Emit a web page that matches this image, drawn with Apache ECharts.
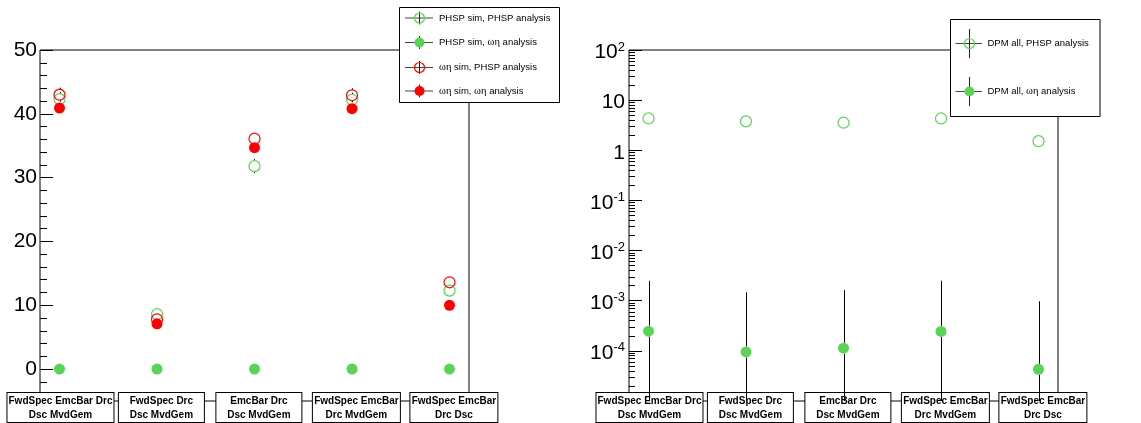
<!DOCTYPE html>
<html>
<head>
<meta charset="utf-8">
<script src="https://cdn.jsdelivr.net/npm/echarts@6/dist/echarts.min.js"></script>
<style>
html,body{margin:0;padding:0;background:#fff;}
#chart{width:1141px;height:423px;}
</style>
</head>
<body>
<div id="chart"></div>
<script>
// ---------- data ----------
const categories = [
  'FwdSpec EmcBar Drc\nDsc MvdGem',
  'FwdSpec Drc\nDsc MvdGem',
  'EmcBar Drc\nDsc MvdGem',
  'FwdSpec EmcBar\nDrc MvdGem',
  'FwdSpec EmcBar\nDrc Dsc'
];
// left panel
const phspSimPhspAna     = [42.3, 8.6, 31.8, 42.2, 12.3];
const phspSimPhspAnaErr  = [1.1, 0.5, 1.1, 1.1, 0.6];
const phspSimOmEtaAna    = [0, 0, 0, 0, 0];
const phspSimOmEtaAnaErr = [0, 0, 0, 0, 0];
const omEtaSimPhspAna    = [43.0, 7.8, 36.1, 42.9, 13.6];
const omEtaSimPhspAnaErr = [1.1, 0.5, 0.9, 1.1, 0.6];
const omEtaSimOmEtaAna   = [40.9, 7.1, 34.7, 40.8, 10.0];
const omEtaSimOmEtaAnaErr= [0.8, 0.4, 0.8, 0.8, 0.5];
// right panel
const dpmPhspAna     = [4.31, 3.77, 3.55, 4.31, 1.52];
const dpmPhspAnaErr  = [0.05, 0.05, 0.05, 0.05, 0.03];
const dpmOmEtaAna    = [2.47e-4, 9.5e-5, 1.13e-4, 2.44e-4, 4.3e-5];
const dpmOmEtaAnaErr = [2.25e-3, 1.375e-3, 1.53e-3, 2.26e-3, 9.3e-4];
// ticks
const leftMajorTicks  = [0, 10, 20, 30, 40, 50];
const leftMinorTicks  = [-4, -2, 2, 4, 6, 8, 12, 14, 16, 18, 22, 24, 26, 28, 32, 34, 36, 38, 42, 44, 46, 48];
const rightMajorTicks = [1e-5, 1e-4, 1e-3, 1e-2, 1e-1, 1, 10, 100];
const rightTickLabels = [1e-4, 1e-3, 1e-2, 1e-1, 1, 10, 100];
const rightMinorTicks = [];
for (let e = -5; e < 2; e++) for (let m = 2; m <= 9; m++) rightMinorTicks.push(+(m * Math.pow(10, e)).toPrecision(3));
const legendLeft  = ['PHSP sim, PHSP analysis', 'PHSP sim, {g|ωη} analysis', '{g|ωη} sim, PHSP analysis', '{g|ωη} sim, {g|ωη} analysis'];
const legendRight = ['DPM all, PHSP analysis', 'DPM all, {g|ωη} analysis'];

// ---------- style ----------
const GREEN = '#59d454', RED = '#ff0000';
const FONT = '"Liberation Sans", Arial, sans-serif';
const SERIF = '"Liberation Serif", "DejaVu Serif", serif';
const MARKER_R = 5.5;
const LABEL_SHIFT = [0.01, 0.045, 0.045, 0.045, 0.045]; // small horizontal nudge of the category boxes

const ctx = document.createElement('canvas').getContext('2d');
ctx.font = 'bold 10px ' + FONT;
const catRich = {};
categories.forEach((c, i) => {
  const tw = Math.max(...c.split('\n').map(l => ctx.measureText(l).width));
  catRich['c' + i] = {width: Math.max(Math.ceil(tw), 83), align: 'center', fontWeight: 'bold', fontSize: 10, lineHeight: 14, fontFamily: FONT, color: '#000'};
});
function catLabel(v) {
  const i = Math.round(v);
  return categories[i].split('\n').map(l => '{c' + i + '|' + l + '}').join('\n');
}
const xLabelStyle = {
  customValues: categories.map((c, i) => i + LABEL_SHIFT[i]), formatter: catLabel, rich: catRich,
  backgroundColor: '#fff', borderColor: '#000', borderWidth: 1, padding: [1, 1, 0, 1],
  margin: -8, showMinLabel: true, showMaxLabel: true, hideOverlap: false
};

function logLabel(v) {
  const e = Math.round(Math.log10(v));
  if (e === 0) return '{b|1}';
  if (e === 1) return '{b|10}';
  return '{b|10}{s|' + e + '}';
}

function errSeries(xi, yi, vals, errs, clampMin) {
  return {
    type: 'custom', xAxisIndex: xi, yAxisIndex: yi, clip: true, z: 2,
    data: vals.map((v, i) => [i, v, errs[i]]),
    encode: {x: 0, y: 1},
    renderItem: function (params, api) {
      const x = api.value(0), y = api.value(1), e = api.value(2);
      if (!(e > 0)) return null;
      let lo = y - e;
      if (clampMin !== undefined && lo < clampMin) lo = clampMin;
      const pc = api.coord([x, y]);
      const p1 = api.coord([x, y + e]);
      const p2 = api.coord([x, lo]);
      const px = Math.round(pc[0]) + 0.5;
      const children = [];
      if (pc[1] - MARKER_R > p1[1]) children.push({type: 'line', shape: {x1: px, y1: p1[1], x2: px, y2: pc[1] - MARKER_R}, style: {stroke: '#000', lineWidth: 1}});
      if (p2[1] > pc[1] + MARKER_R) children.push({type: 'line', shape: {x1: px, y1: pc[1] + MARKER_R, x2: px, y2: p2[1]}, style: {stroke: '#000', lineWidth: 1}});
      return {type: 'group', children: children};
    }
  };
}
function scat(xi, yi, vals, filled, color) {
  return {
    type: 'scatter', xAxisIndex: xi, yAxisIndex: yi, z: 3,
    data: vals.map((v, i) => [i, v]),
    symbol: 'circle', symbolSize: 11,
    itemStyle: filled ? {color: color, opacity: 1} : {color: 'rgba(0,0,0,0)', borderColor: color, borderWidth: 1.2, opacity: 1}
  };
}

// ---------- legends (graphic) ----------
function legendBlock(box, items, markers, lx, x1, x2, tx, vhalf) {
  const els = [{type: 'rect', shape: box, style: {fill: '#fff', stroke: '#000', lineWidth: 1}, z: 100}];
  items.forEach((t, i) => {
    const y = markers[i].y;
    els.push({type: 'line', shape: {x1: x1, y1: y, x2: x2, y2: y}, style: {stroke: '#444', lineWidth: 1}, z: 101});
    els.push({type: 'line', shape: {x1: lx, y1: y - vhalf, x2: lx, y2: y + vhalf}, style: {stroke: '#222', lineWidth: 1}, z: 101});
    els.push({type: 'circle', shape: {cx: lx, cy: y, r: 5}, style: markers[i].filled ? {fill: markers[i].color} : {fill: 'rgba(0,0,0,0)', stroke: markers[i].color, lineWidth: 1.2}, z: 102});
    els.push({type: 'text', x: tx, y: y, style: {text: t, fontSize: 9.5, fontFamily: FONT, fill: '#000', verticalAlign: 'middle', align: 'left',
      rich: {g: {fontFamily: SERIF, fontSize: 10.5, fill: '#000'}}}, z: 103});
  });
  return els;
}
const graphics = [].concat(
  legendBlock({x: 399.5, y: 7.5, width: 160, height: 95}, legendLeft,
    [{y: 18, filled: false, color: GREEN}, {y: 42.5, filled: true, color: GREEN}, {y: 67.5, filled: false, color: RED}, {y: 91, filled: true, color: RED}],
    419.5, 405, 433, 439, 6.5),
  legendBlock({x: 950.5, y: 19.5, width: 149.5, height: 97}, legendRight,
    [{y: 43.5, filled: false, color: GREEN}, {y: 91.5, filled: true, color: GREEN}],
    969.5, 955.5, 982, 987.5, 14.5)
);

const noLine = {show: false, onZero: false};
const chart = echarts.init(document.getElementById('chart'), null, {renderer: 'canvas'});
chart.setOption({
  animation: false,
  backgroundColor: '#fff',
  textStyle: {fontFamily: FONT},
  grid: [
    {left: 40, top: 50, width: 429, height: 351, show: true, borderColor: '#000', borderWidth: 1, backgroundColor: 'rgba(0,0,0,0)', containLabel: false},
    {left: 629, top: 50, width: 429, height: 351, show: true, borderColor: '#000', borderWidth: 1, backgroundColor: 'rgba(0,0,0,0)', containLabel: false}
  ],
  xAxis: [
    {gridIndex: 0, type: 'value', position: 'bottom', min: -0.2, max: 4.2, axisLine: noLine, axisTick: {show: false}, splitLine: {show: false}, axisLabel: xLabelStyle},
    {gridIndex: 1, type: 'value', position: 'bottom', min: -0.2, max: 4.2, axisLine: noLine, axisTick: {show: false}, splitLine: {show: false}, axisLabel: xLabelStyle}
  ],
  yAxis: [
    {gridIndex: 0, type: 'value', position: 'left', min: -5, max: 50, axisLine: noLine, splitLine: {show: false},
      axisTick: {show: true, inside: true, length: 13, customValues: leftMajorTicks, lineStyle: {color: '#000'}},
      axisLabel: {customValues: leftMajorTicks, fontSize: 21, color: '#000', margin: 3, padding: [5, 0, 0, 0], fontFamily: FONT}},
    {gridIndex: 0, type: 'value', position: 'left', min: -5, max: 50, axisLine: noLine, splitLine: {show: false},
      axisTick: {show: true, inside: true, length: 7, customValues: leftMinorTicks, lineStyle: {color: '#000'}},
      axisLabel: {show: false}},
    {gridIndex: 1, type: 'log', position: 'left', logBase: 10, min: 1e-5, max: 100, axisLine: noLine, splitLine: {show: false},
      axisTick: {show: true, inside: true, length: 13, customValues: rightMajorTicks, lineStyle: {color: '#000'}},
      axisLabel: {customValues: rightTickLabels, formatter: logLabel, margin: 4, padding: [5, 0, 0, 0],
        rich: {b: {fontSize: 21, fontFamily: FONT, color: '#000', lineHeight: 24}, s: {fontSize: 13, fontFamily: FONT, color: '#000', verticalAlign: 'top', lineHeight: 14}}}},
    {gridIndex: 1, type: 'log', position: 'left', logBase: 10, min: 1e-5, max: 100, axisLine: noLine, splitLine: {show: false},
      axisTick: {show: true, inside: true, length: 6, customValues: rightMinorTicks, lineStyle: {color: '#000'}},
      axisLabel: {show: false}}
  ],
  series: [
    errSeries(0, 0, phspSimPhspAna, phspSimPhspAnaErr),
    errSeries(0, 0, phspSimOmEtaAna, phspSimOmEtaAnaErr),
    errSeries(0, 0, omEtaSimPhspAna, omEtaSimPhspAnaErr),
    errSeries(0, 0, omEtaSimOmEtaAna, omEtaSimOmEtaAnaErr),
    scat(0, 0, phspSimPhspAna, false, GREEN),
    scat(0, 0, phspSimOmEtaAna, true, GREEN),
    scat(0, 0, omEtaSimPhspAna, false, RED),
    scat(0, 0, omEtaSimOmEtaAna, true, RED),
    errSeries(1, 2, dpmPhspAna, dpmPhspAnaErr, 1e-6),
    errSeries(1, 2, dpmOmEtaAna, dpmOmEtaAnaErr, 1e-6),
    scat(1, 2, dpmPhspAna, false, GREEN),
    scat(1, 2, dpmOmEtaAna, true, GREEN)
  ],
  graphic: graphics
});
</script>
</body>
</html>
